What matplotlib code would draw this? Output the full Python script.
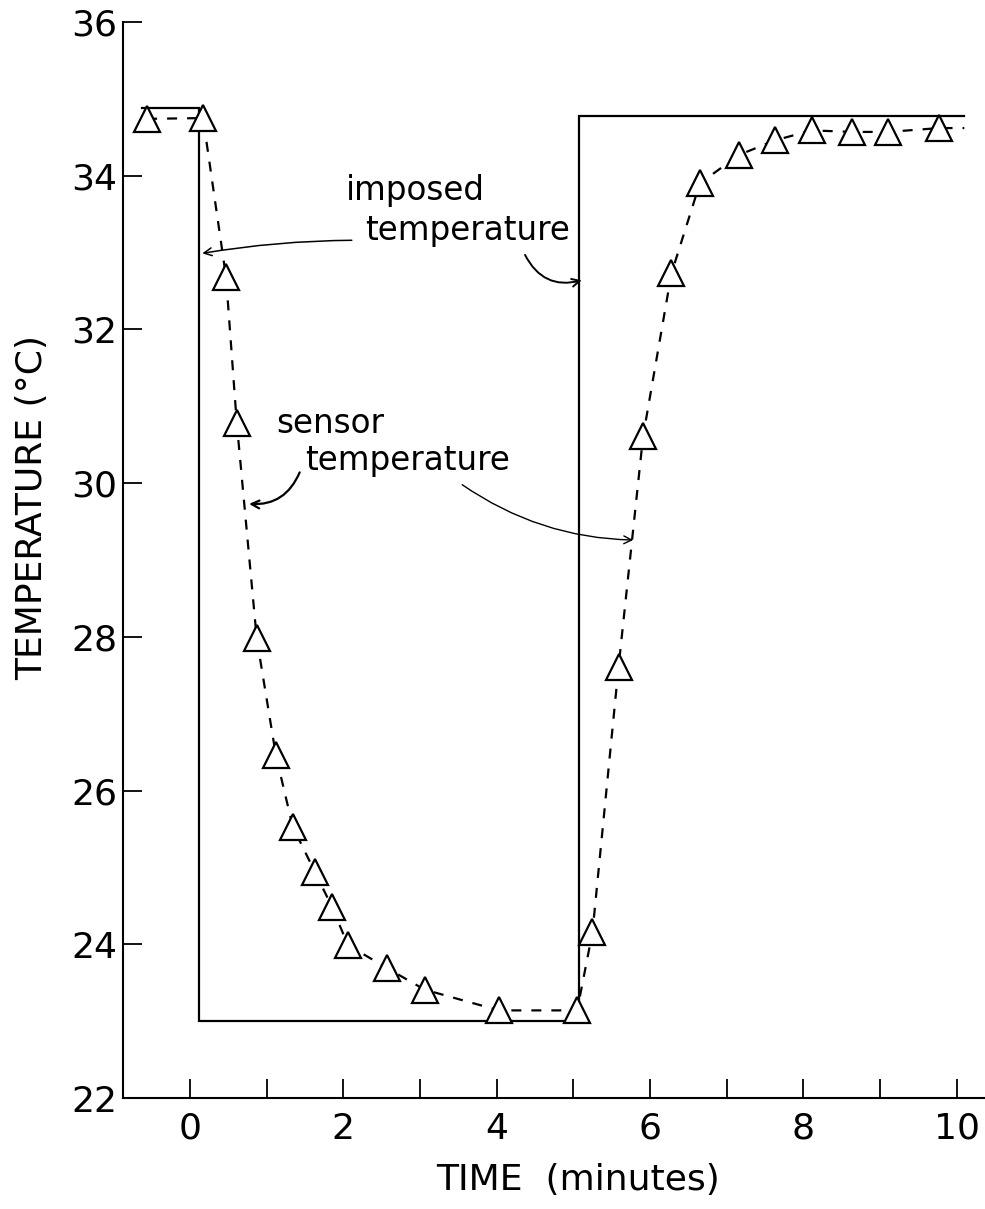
#!/usr/bin/env python
# step response of the sensor: imposed temperature vs. measured sensor temperature

import matplotlib
matplotlib.use('Agg')
import matplotlib.pyplot as plt
from matplotlib.ticker import MultipleLocator

# imposed (bath) temperature, square step down then up
imposed_time = [-0.62, 0.12, 0.12, 5.08, 5.08, 10.1]
imposed_temp = [34.88, 34.88, 23.0, 23.0, 34.78, 34.78]

# sensor readings (triangles)
sensor_time = [-0.56, 0.17, 0.47, 0.61, 0.87, 1.12, 1.34, 1.63, 1.85, 2.06, 2.57, 3.06,
               4.03, 5.05, 5.25, 5.59, 5.91, 6.28, 6.65, 7.16, 7.63, 8.11, 8.63, 9.11, 9.77]
sensor_temp = [34.74, 34.75, 32.68, 30.78, 27.98, 26.46, 25.53, 24.94, 24.49, 23.99, 23.69, 23.41,
               23.14, 23.14, 24.16, 27.61, 30.61, 32.73, 33.90, 34.27, 34.46, 34.59, 34.57, 34.57, 34.62]

# dashed curve runs on a little past the last reading
curve_tail_time = [10.1]
curve_tail_temp = [34.62]

x_ticks = [0, 2, 4, 6, 8, 10]
y_ticks = [22, 24, 26, 28, 30, 32, 34, 36]

plt.rcParams['font.family'] = ['DejaVu Sans']


def main():
    fig = plt.figure(figsize=(9.85, 12.09), dpi=100)
    ax = fig.add_axes([0.1249, 0.0918, 0.8751, 0.89])

    ax.plot(imposed_time, imposed_temp, color='black', lw=1.6, solid_joinstyle='miter')
    ax.plot(sensor_time + curve_tail_time, sensor_temp + curve_tail_temp,
            color='black', lw=1.6, dashes=(4.5, 4.5), zorder=2)
    ax.plot(sensor_time, sensor_temp, linestyle='none', marker='^', ms=19,
            mfc='white', mec='black', mew=1.6, zorder=3)

    ax.set_xlim(-0.874, 10.37)
    ax.set_ylim(22, 36)

    for side in ('top', 'right'):
        ax.spines[side].set_visible(False)
    for side in ('left', 'bottom'):
        ax.spines[side].set_linewidth(1.5)

    ax.set_xticks(x_ticks)
    ax.set_yticks(y_ticks)
    ax.xaxis.set_minor_locator(MultipleLocator(1))
    ax.tick_params(axis='both', which='both', direction='in', length=14, width=1.3,
                   labelsize=26)
    ax.tick_params(axis='x', which='both', pad=10)
    ax.tick_params(axis='y', pad=4)

    fig.text(32 / 985, 1 - 508 / 1209, 'TEMPERATURE (°C)', rotation=90,
             ha='center', va='center', fontsize=26)
    fig.text(578 / 985, 1 - 1180 / 1209, 'TIME  (minutes)', ha='center', va='center',
             fontsize=26)

    # labels on the curves
    ax.text(2.03, 33.68, 'imposed', fontsize=23.5, ha='left', va='baseline')
    ax.text(2.28, 33.16, 'temperature', fontsize=23.5, ha='left', va='baseline')
    ax.text(1.13, 30.65, 'sensor', fontsize=23.5, ha='left', va='baseline')
    ax.text(1.50, 30.17, 'temperature', fontsize=23.5, ha='left', va='baseline')

    arrows = [
        ((2.11, 33.16), (0.16, 32.99), 0.04, 1.1),
        ((4.37, 32.97), (5.11, 32.64), 0.4, 1.4),
        ((1.43, 30.14), (0.77, 29.73), -0.35, 1.6),
        ((3.55, 29.98), (5.78, 29.26), 0.15, 1.0),
    ]
    for start, tip, rad, lw in arrows:
        ax.annotate('', xy=tip, xytext=start,
                    arrowprops=dict(arrowstyle='->', color='black', lw=lw,
                                    shrinkA=0, shrinkB=0, mutation_scale=14,
                                    connectionstyle='arc3,rad=%s' % rad))

    fig.savefig('out.png', dpi=100, facecolor='white')


if __name__ == '__main__':
    main()
